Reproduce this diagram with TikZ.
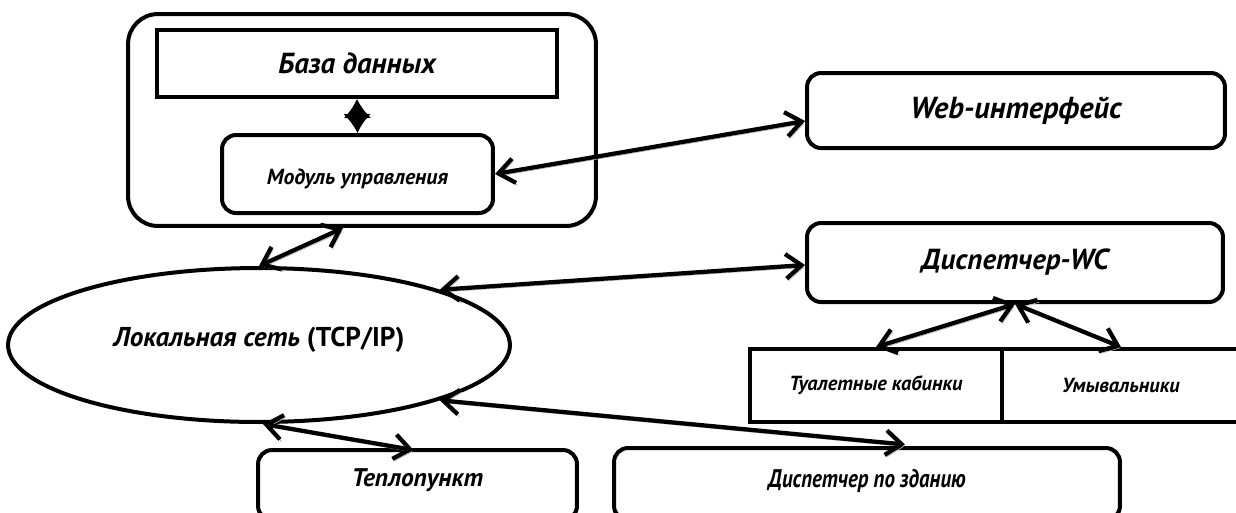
\documentclass[tikz,border=0pt]{standalone}
\usepackage{fontspec}
\usepackage{graphicx}
\setmainfont{PT Sans}
\usetikzlibrary{arrows.meta,shapes.geometric}
\begin{document}
\begin{tikzpicture}[x=0.02cm,y=-0.02cm,
  every node/.style={font=\bfseries\itshape, inner sep=0pt},
  frame/.style={draw=black, line width=0.08cm, fill=white},
  rbox/.style={frame, rounded corners=0.28cm},
  sbox/.style={frame},
  conn/.style={line width=0.085cm, line cap=round,
    {Straight Barb[length=9pt,width=14pt,line width=0.085cm]}-{Straight Barb[length=9pt,width=14pt,line width=0.085cm]},
    preaction={draw=black!30, transform canvas={xshift=1pt,yshift=-1.3pt}}},
  dconn/.style={line width=0.06cm,
    {Latex[length=0.38cm,width=0.56cm]}-{Latex[length=0.38cm,width=0.56cm]}},
  big/.style={font=\fontsize{16.5}{18}\selectfont\bfseries\itshape},
  mid/.style={font=\fontsize{14.5}{16}\selectfont\bfseries\itshape},
  small/.style={font=\fontsize{11.6}{14}\selectfont\bfseries\itshape}]
\useasboundingbox (0,0) rectangle (1236,512);
\clip (0,0) rectangle (1236,512);
\fill[white] (0,0) rectangle (1236,512);

% container
\node[rbox, rounded corners=0.6cm, minimum width=9.36cm, minimum height=4.24cm] (outer) at (362,120) {};
\node[sbox, big, minimum width=8.0cm, minimum height=1.34cm] (db) at (357,63.5) {База данных};
\node[rbox, font=\fontsize{12.4}{14}\selectfont\bfseries\itshape, text height=15pt, text depth=3pt,
  minimum width=5.42cm, minimum height=1.56cm] (mod) at (357.5,174) {Модуль управления};

% right side
\node[rbox, font=\fontsize{17.3}{19}\selectfont\bfseries\itshape, minimum width=8.36cm, minimum height=1.5cm] (web) at (1016,110.5) {Web-интерфейс};
\node[rbox, big, minimum width=8.32cm, minimum height=1.58cm] (wc) at (1015,262.5) {Диспетчер-WC};
\node[sbox, small, minimum width=5.04cm, minimum height=1.46cm] (tual) at (876,385.5) {Туалетные кабинки};
\node[sbox, small, minimum width=4.76cm, minimum height=1.46cm] (umyv) at (1121,385.5) {Умывальники};

% network
\node[ellipse, frame, font=\fontsize{15.5}{17}\selectfont\bfseries\itshape, text depth=9pt,
  minimum width=10.04cm, minimum height=3.08cm] (ell) at (259,345) {Локальная сеть {\upshape (TCP/IP)}};

% bottom
\node[rbox, mid, text depth=9pt, minimum width=6.38cm, minimum height=1.4cm] (tep) at (417.5,485) {Теплопункт};
\node[rbox, mid, text depth=6pt, minimum width=10.12cm, minimum height=1.44cm] (disp) at (867,484) {\scalebox{0.82}[1]{Диспетчер по зданию}};

% connectors
\draw[dconn] (db.south) -- (mod.north);
\draw[conn] (mod.east) -- ([yshift=-0.21cm]web.west);
\draw[conn] ([xshift=-0.38cm]outer.south) -- (ell.north);
\draw[conn] (ell.17) -- ([yshift=-0.05cm]wc.west);
\draw[conn] (wc.south) -- (tual.north);
\draw[conn] (wc.south) -- (umyv.north);
\draw[conn] ([xshift=0.08cm]ell.south) -- ([xshift=-0.08cm,yshift=-0.04cm]tep.north);
\draw[conn] (ell.-17) -- ([xshift=0.76cm,yshift=0.03cm]disp.north);
\end{tikzpicture}
\end{document}
